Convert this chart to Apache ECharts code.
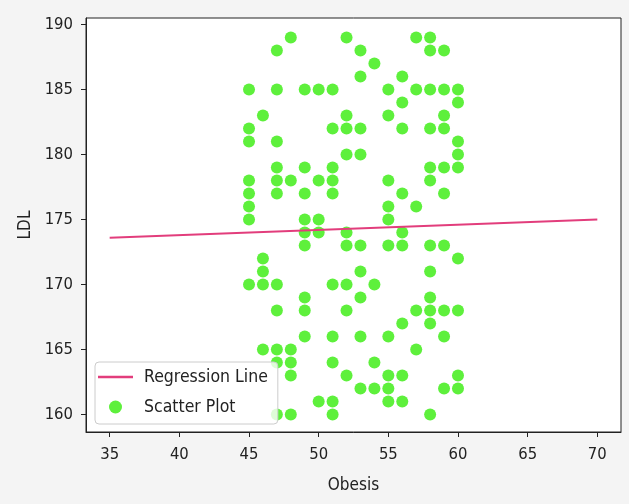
<!DOCTYPE html>
<html>
<head>
<meta charset="utf-8">
<script src="https://cdn.jsdelivr.net/npm/echarts@6/dist/echarts.min.js"></script>
<style>
html,body{margin:0;padding:0;background:#f4f4f4;}
#chart{width:629px;height:504px;}
</style>
</head>
<body>
<div id="chart"></div>
<script>
// Scatter data (Obesis, LDL)
var obesis = [
  45,45,45,45,45,45,45,45,
  46,46,46,46,46,
  47,47,47,47,47,47,47,47,47,47,47,
  48,48,48,48,48,48,
  49,49,49,49,49,49,49,49,49,
  50,50,50,50,50,
  51,51,51,51,51,51,51,51,51,51,
  52,52,52,52,52,52,52,52,52,
  53,53,53,53,53,53,53,53,53,
  54,54,54,54,
  55,55,55,55,55,55,55,55,55,55,
  56,56,56,56,56,56,56,56,56,
  57,57,57,57,57,
  58,58,58,58,58,58,58,58,58,58,58,58,
  59,59,59,59,59,59,59,59,59,59,
  60,60,60,60,60,60,60,60,60
];
var ldl = [
  185,182,181,178,177,176,175,170,
  183,172,171,170,165,
  188,185,181,179,178,177,170,168,165,164,160,
  189,178,165,164,163,160,
  185,179,177,175,174,173,169,168,166,
  185,178,175,174,161,
  185,182,179,178,177,170,166,164,161,160,
  189,183,182,180,174,173,170,168,163,
  188,186,182,180,173,171,169,166,162,
  187,170,164,162,
  185,183,178,176,175,173,166,163,162,161,
  186,184,182,177,174,173,167,163,161,
  189,185,176,168,165,
  189,188,185,182,179,178,173,171,169,168,167,160,
  188,185,183,182,179,177,173,168,166,162,
  185,184,181,180,179,172,168,163,162
];
// Regression line endpoints
var regX = [35, 70];
var regY = [173.6, 175.0];
// Tick labels
var xTicks = [35, 40, 45, 50, 55, 60, 65, 70];
var yTicks = [160, 165, 170, 175, 180, 185, 190];

var scatterData = obesis.map(function (x, i) { return [x, ldl[i]]; });
var lineData = regX.map(function (x, i) { return [x, regY[i]]; });

var font = "'DejaVu Sans Condensed', 'DejaVu Sans', sans-serif";
var chart = echarts.init(document.getElementById('chart'), null, {renderer: 'canvas'});
chart.setOption({
  backgroundColor: '#f4f4f4',
  animation: false,
  grid: {
    left: 86, right: 8, top: 18, bottom: 72,
    show: true, backgroundColor: '#ffffff', borderColor: '#222', borderWidth: 1
  },
  xAxis: {
    type: 'value', min: 33.3, max: 71.7,
    name: 'Obesis', nameLocation: 'middle', nameGap: 45,
    nameTextStyle: {fontFamily: font, fontSize: 17, color: '#222'},
    axisLine: {show: true, onZero: false, lineStyle: {color: '#222'}},
    axisTick: {show: true, length: 5, customValues: xTicks, lineStyle: {color: '#222'}},
    axisLabel: {customValues: xTicks, margin: 14, fontFamily: font, fontSize: 16.5, color: '#222'},
    splitLine: {show: false}
  },
  yAxis: {
    type: 'value', min: 158.65, max: 190.5,
    name: 'LDL', nameLocation: 'middle', nameGap: 51, nameRotate: 90,
    nameTextStyle: {fontFamily: font, fontSize: 17, color: '#222'},
    axisLine: {show: true, onZero: false, lineStyle: {color: '#222'}},
    axisTick: {show: true, length: 5, customValues: yTicks, lineStyle: {color: '#222'}},
    axisLabel: {customValues: yTicks, margin: 13, fontFamily: font, fontSize: 16.5, color: '#222'},
    splitLine: {show: false}
  },
  legend: {
    orient: 'vertical', left: 95, top: 362,
    padding: [6, 10, 8, 3],
    itemWidth: 35, itemHeight: 13, itemGap: 12,
    backgroundColor: 'rgba(255,255,255,0.8)', borderColor: '#cccccc', borderWidth: 1, borderRadius: 4,
    textStyle: {fontFamily: font, fontSize: 17.5, color: '#222', padding: [0, 0, 0, 6]},
    data: [
      {name: 'Regression Line', icon: 'path://M0,0 L35,0 L35,2.5 L0,2.5 Z'},
      {name: 'Scatter Plot', icon: 'circle'}
    ]
  },
  series: [
    {
      name: 'Regression Line', type: 'line', data: lineData,
      symbol: 'none', lineStyle: {color: '#e23d7c', width: 2}, itemStyle: {color: '#e23d7c'}, z: 3
    },
    {
      name: 'Scatter Plot', type: 'scatter', data: scatterData,
      symbolSize: 12, itemStyle: {color: '#5ef03c', opacity: 1}, z: 2
    }
  ]
});
</script>
</body>
</html>
